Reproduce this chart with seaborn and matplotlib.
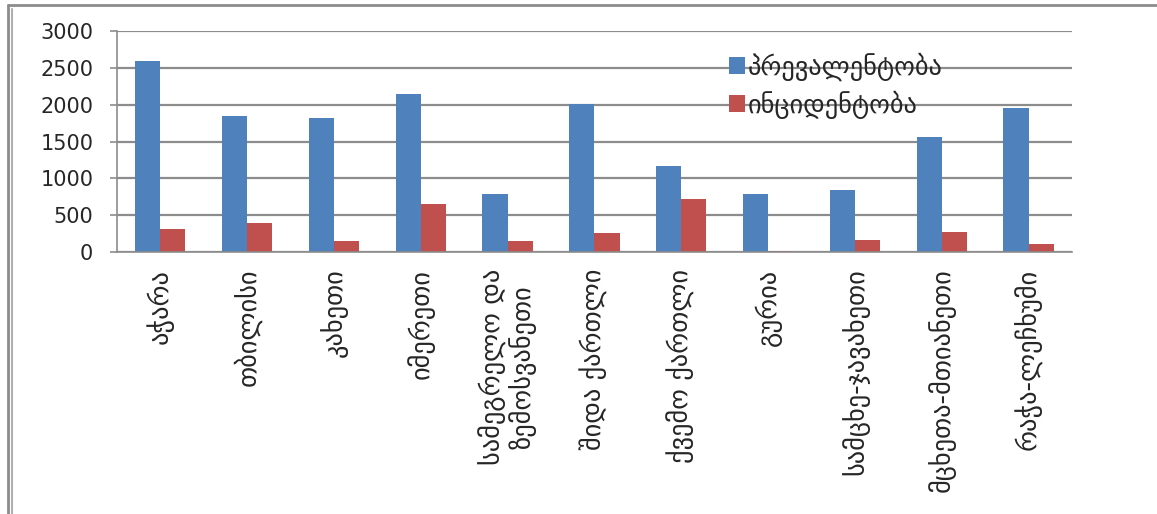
import matplotlib
matplotlib.use("Agg")
import matplotlib.pyplot as plt
from matplotlib.lines import Line2D
import seaborn as sns
import pandas as pd
import numpy as np

# regions (x axis)
regions = ["აჭარა", "თბილისი", "კახეთი", "იმერეთი", "სამეგრელო და\nზემოსვანეთი",
           "შიდა ქართლი", "ქვემო ქართლი", "გურია", "სამცხე-ჯავახეთი",
           "მცხეთა-მთიანეთი", "რაჭა-ლეჩხუმი"]
prevalence = [2590, 1850, 1815, 2145, 785, 2015, 1170, 790, 845, 1565, 1955]
incidence = [310, 400, 145, 655, 150, 255, 715, 20, 165, 265, 110]
series_names = ["პრევალენტობა", "ინციდენტობა"]
yticks = [0, 500, 1000, 1500, 2000, 2500, 3000]

df = pd.DataFrame({
    "region": regions * 2,
    "value": prevalence + incidence,
    "series": [series_names[0]] * len(regions) + [series_names[1]] * len(regions),
})

sns.set_style("white")
plt.rcParams["font.family"] = ["DejaVu Sans"]

fig = plt.figure(figsize=(11.57, 5.14), dpi=100)
ax = fig.add_axes([0.101, 0.5097, 0.8255, 0.43])

pal = {series_names[0]: "#4f81bd", series_names[1]: "#c0504d"}
sns.barplot(data=df, x="region", y="value", hue="series", palette=pal,
            width=0.58, gap=0, ax=ax, saturation=1, edgecolor="none")

ax.set_ylim(0, 3000)
ax.set_xlim(-0.5, len(regions) - 0.5)
ax.set_yticks(yticks)
ax.set_yticklabels([str(t) for t in yticks], fontsize=15)
ax.yaxis.grid(True, color="#8c8c8c", linewidth=1.6)
ax.set_axisbelow(True)
ax.set_xlabel("")
ax.set_ylabel("")

for s in ["top", "right"]:
    ax.spines[s].set_visible(False)
ax.spines["left"].set_color("#8c8c8c")
ax.spines["bottom"].set_color("#8c8c8c")
ax.spines["left"].set_linewidth(1.2)
ax.spines["bottom"].set_linewidth(1.2)

ax.set_xticks(np.arange(len(regions)))
ax.set_xticklabels(regions, rotation=90, fontsize=19, va="top", ha="center",
                   multialignment="center", linespacing=1.05)
ax.tick_params(axis="x", which="major", length=0, pad=12)
ax.set_xticks(np.arange(len(regions) + 1) - 0.5, minor=True)
ax.tick_params(axis="x", which="minor", length=7, color="#8c8c8c", width=1.2,
               direction="out")
ax.tick_params(axis="y", length=5, color="#8c8c8c", width=1.2, direction="out",
               left=True, pad=12)

leg = ax.legend(loc="upper left", bbox_to_anchor=(0.63, 0.95), frameon=False,
                fontsize=19, handlelength=0.6, handleheight=0.6,
                handletextpad=0.1, labelspacing=0.35, borderaxespad=0)

# outer frame lines
fig.add_artist(Line2D([8 / 1157, 1], [1 - 5 / 514] * 2, color="#8c8c8c", lw=2,
                      transform=fig.transFigure))
fig.add_artist(Line2D([8 / 1157] * 2, [0, 1 - 5 / 514], color="#8c8c8c", lw=2,
                      transform=fig.transFigure))
fig.add_artist(Line2D([12 / 1157] * 2, [0, 1 - 9 / 514], color="#b0b0b0", lw=1.5,
                      transform=fig.transFigure))

fig.savefig("out.png", dpi=100)
